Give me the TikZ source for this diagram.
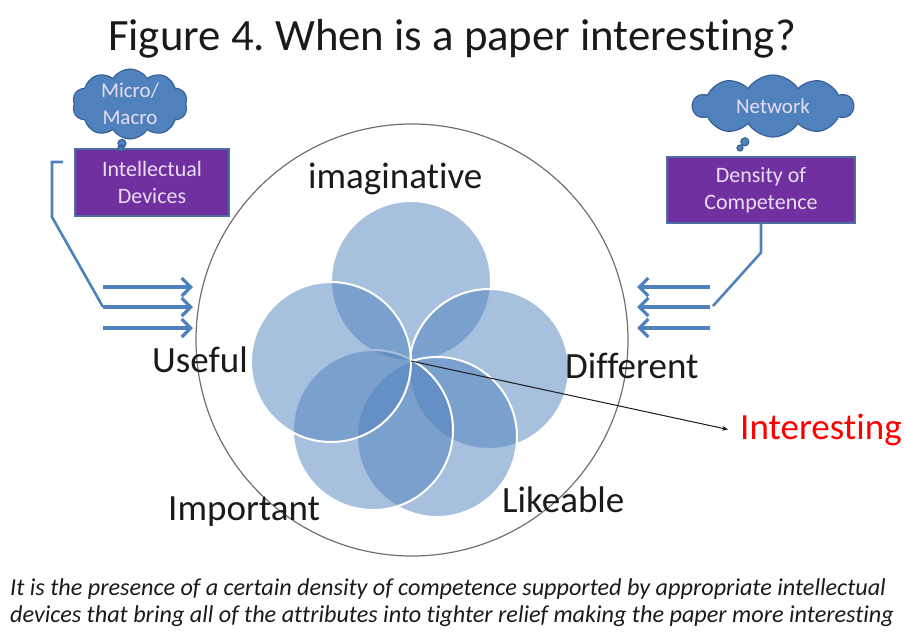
\documentclass[tikz,border=0pt]{standalone}
\usepackage{fontspec}
\setmainfont{Carlito}[Ligatures={NoCommon,TeX}]
\usetikzlibrary{shapes.callouts,shapes.symbols,arrows.meta}
\definecolor{accent}{HTML}{4F81BD}
\definecolor{cloudline}{HTML}{3A6296}
\definecolor{boxfill}{HTML}{7030A0}
\definecolor{boxline}{HTML}{4A6FA5}
\definecolor{boxtext}{HTML}{E9DDF5}
\definecolor{ringgray}{HTML}{707070}
\definecolor{ink}{HTML}{1A1A1A}
\frenchspacing
\begin{document}
\begin{tikzpicture}[x=1pt,y=-1pt,
  venn/.style={circle,minimum size=160pt,inner sep=0pt,fill=accent,fill opacity=0.5,draw=white,draw opacity=1,line width=2pt},
  lab/.style={anchor=base west,inner sep=0pt,font=\fontsize{37}{44}\selectfont,text=ink},
  thought/.style={cloud callout,cloud puffs=10,cloud puff arc=115,cloud ignores aspect,draw=cloudline,fill=accent,line width=1.2pt,
    text=boxtext,font=\fontsize{21}{27}\selectfont,align=center,inner sep=0pt,
    callout pointer segments=2,callout pointer start size=10pt,callout pointer end size=6pt},
  device/.style={rectangle,draw=boxline,line width=1.2pt,fill=boxfill,text=boxtext,
    font=\fontsize{22}{27}\selectfont,align=center,inner sep=0pt},
  link/.style={draw=accent,line width=2.6pt},
  push/.style={draw=accent,line width=3.2pt,-{Straight Barb[length=9pt,width=18pt]}},
  pointer/.style={draw=ink,line width=1pt,-{Stealth[length=6pt,width=5pt]}}
]
\useasboundingbox (0,0) rectangle (904,632);

% title
\node[anchor=base,inner sep=0pt,font=\fontsize{44.8}{52}\selectfont,text=ink] (title) at (452,50) {Figure 4. When is a paper interesting?};

% outer ring
\node[circle,draw=ringgray,line width=1.2pt,minimum size=432pt,inner sep=0pt] (ring) at (412,340) {};

% venn circles (drawing order matters)
\node[venn] (ctop) at (411,281) {};
\node[venn] (cright) at (489,369) {};
\node[venn] (clike) at (437,437) {};
\node[venn] (cimp) at (373,430) {};
\node[venn] (cleft) at (331,362) {};
\coordinate (hub) at (411,361);

% labels
\node[lab] (imag) at (308,188) {imaginative};
\node[lab] (useful) at (152,372) {Useful};
\node[lab] (diff) at (565,378) {Different};
\node[lab] (imp) at (168,520) {Important};
\node[lab] (like) at (502,512) {Likeable};
\node[lab,text=red] (int) at (740,439) {Interesting};

\draw[pointer] (hub) -- ([xshift=-12pt]int.west);

% left devices
\node[device,minimum width=154pt,minimum height=67pt] (ldev) at (152,182.5) {Intellectual\\Devices};
\node[thought,minimum width=115pt,minimum height=64pt,callout absolute pointer={(121,148)}] (lcloud) at (130,104) {Micro/\\Macro};

% right devices
\node[device,minimum width=188pt,minimum height=66pt] (rdev) at (761,190) {Density of\\Competence};
\node[thought,minimum width=160pt,minimum height=62pt,callout absolute pointer={(740,148)}] (rcloud) at (773,106) {Network};

% left arrows
\coordinate (la1) at (103,287); \coordinate (lb1) at (193,287);
\coordinate (la2) at (103,307); \coordinate (lb2) at (193,307);
\coordinate (la3) at (103,328); \coordinate (lb3) at (193,328);
\draw[push] (la1) -- (lb1);
\draw[push] (la2) -- (lb2);
\draw[push] (la3) -- (lb3);
\coordinate (lstub) at (63,162);
\draw[link] (lstub) -- (52,162) -- (52,217) -- (la2);

% right arrows
\coordinate (ra1) at (710,287); \coordinate (rb1) at (637,287);
\coordinate (ra2) at (710,307); \coordinate (rb2) at (637,307);
\coordinate (ra3) at (710,328); \coordinate (rb3) at (637,328);
\draw[push] (ra1) -- (rb1);
\draw[push] (ra2) -- (rb2);
\draw[push] (ra3) -- (rb3);
\draw[link] (rdev.south) -- ++(0,29) -- ([xshift=3pt,yshift=1pt]ra2);

% caption
\node[anchor=base west,inner sep=0pt,align=left,text=ink,font=\fontsize{24.2}{27}\selectfont\itshape] (caption) at (10,622)
 {It is the presence of a certain density of competence supported by appropriate intellectual\\devices that bring all of the attributes into tighter relief making the paper more interesting};
\end{tikzpicture}
\end{document}
